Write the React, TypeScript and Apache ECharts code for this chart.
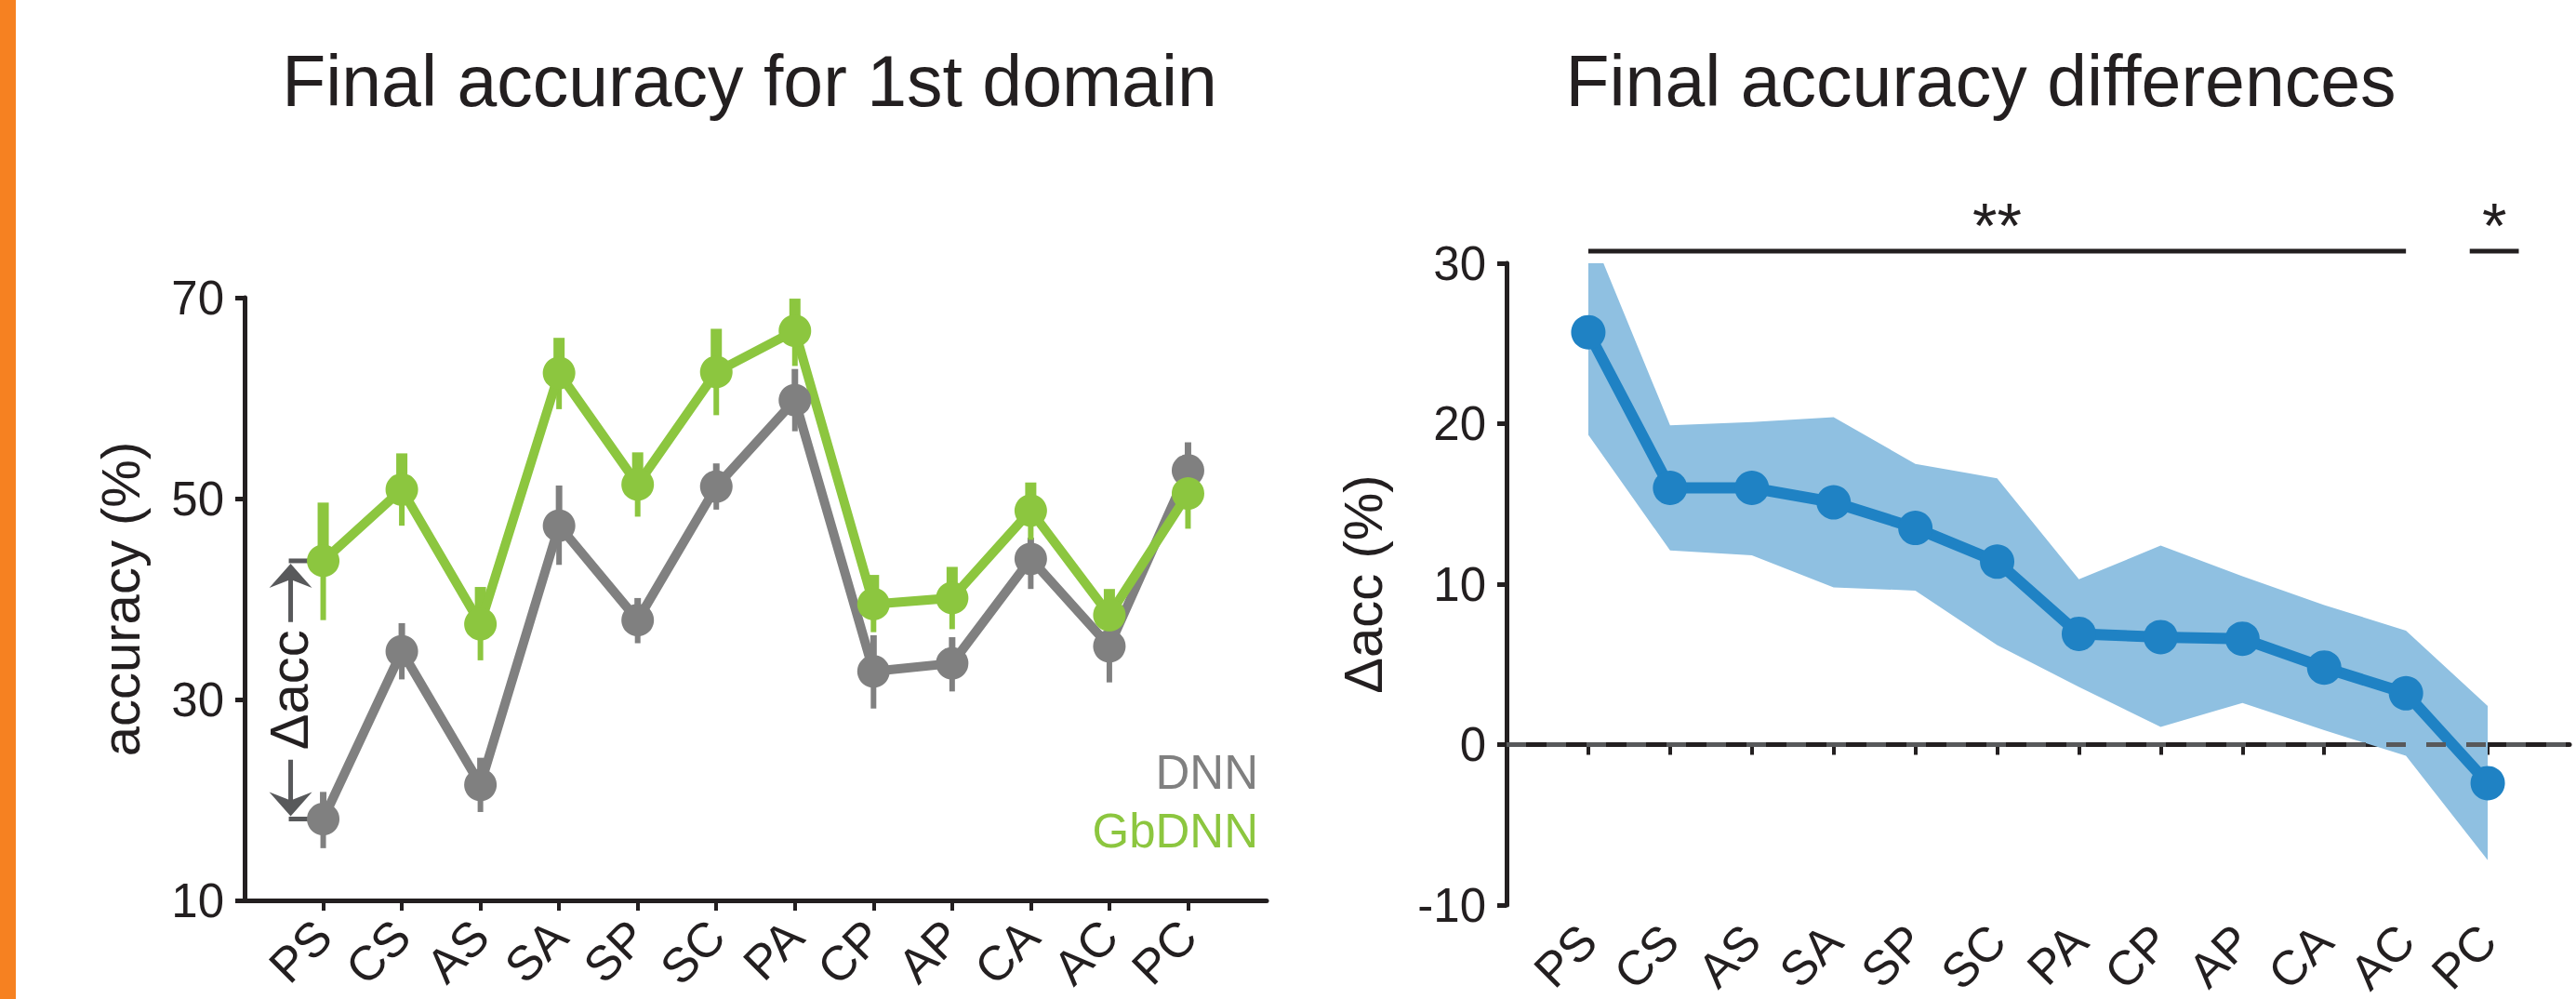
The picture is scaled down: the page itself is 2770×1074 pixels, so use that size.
import React, { useEffect, useRef } from "react";
import * as echarts from "echarts";

// ---------- data ----------
const categories = ["PS", "CS", "AS", "SA", "SP", "SC", "PA", "CP", "AP", "CA", "AC", "PC"];

const dnnMean = [18.1, 34.8, 21.5, 47.3, 37.9, 51.2, 59.8, 32.8, 33.6, 44.0, 35.3, 52.8];
const dnnLow = [15.2, 32.0, 18.8, 43.4, 35.6, 48.9, 56.7, 29.1, 30.8, 41.0, 31.7, 49.9];
const dnnHigh = [20.8, 37.6, 24.2, 51.3, 40.1, 53.5, 62.9, 36.4, 36.2, 46.1, 36.7, 55.6];

const gbMean = [43.8, 50.9, 37.5, 62.5, 51.4, 62.6, 66.7, 39.5, 40.1, 48.8, 38.4, 50.5];
const gbLow = [37.9, 47.3, 33.9, 58.9, 48.2, 58.3, 63.2, 36.7, 37.0, 45.9, 35.9, 47.0];
const gbHigh = [49.6, 54.5, 41.2, 66.0, 54.6, 66.9, 69.9, 42.4, 43.2, 51.6, 41.0, 53.9];

const diffMean = [25.7, 16.0, 16.0, 15.1, 13.5, 11.4, 6.9, 6.7, 6.6, 4.8, 3.2, -2.4];
const diffLow = [19.3, 12.1, 11.8, 9.8, 9.6, 6.2, 3.6, 1.1, 2.6, 0.9, -0.7, -7.2];
const diffHigh = [32.3, 19.9, 20.1, 20.4, 17.5, 16.6, 10.3, 12.4, 10.5, 8.7, 7.1, 2.4];

const leftTicks = [10, 30, 50, 70];
const rightTicks = [-10, 0, 10, 20, 30];

const sigGroups = [
  { from: "PS", to: "AC", label: "**" },
  { from: "PC", to: "PC", label: "*" },
];
const sigLevel = 30.75;

// ---------- styles ----------
const FONT = "Liberation Sans, Arial, Helvetica, sans-serif";
const INK = "#231f20";
const GRAY = "#808080";
const GREEN = "#8cc63f";
const BLUE = "#1f82c4";
const BAND = "#8fc0e1";
const DARK = "#58595b";
const ORANGE = "#f68121";

const pad = (arr: (number | string)[]) => [null, ...arr, null];
const xCats = ["", ...categories, ""];

function errorSeries(idx: number, mean: number[], low: number[], high: number[], color: string, upW: number, lowW: number) {
  return {
    type: "custom",
    xAxisIndex: idx,
    yAxisIndex: idx,
    silent: true,
    data: categories.map((c, i) => [i + 1, mean[i], low[i], high[i]]),
    encode: { x: 0, y: [1, 2, 3] },
    renderItem: (params: any, api: any) => {
      const x = api.value(0);
      const m = api.coord([x, api.value(1)]);
      const lo = api.coord([x, api.value(2)]);
      const hi = api.coord([x, api.value(3)]);
      return {
        type: "group",
        children: [
          { type: "line", shape: { x1: m[0], y1: m[1], x2: hi[0], y2: hi[1] }, style: { stroke: color, lineWidth: upW } },
          { type: "line", shape: { x1: m[0], y1: m[1], x2: lo[0], y2: lo[1] }, style: { stroke: color, lineWidth: lowW } },
        ],
      };
    },
  };
}

function xAxisDef(idx: number) {
  return {
    type: "category",
    gridIndex: idx,
    data: xCats,
    boundaryGap: false,
    axisLine: { show: true, lineStyle: { color: INK, width: 5 } },
    axisTick: {
      show: true,
      interval: (i: number, v: string) => v !== "",
      length: 11,
      lineStyle: { color: INK, width: 4 },
    },
    axisLabel: { interval: 0, rotate: 45, margin: 30, fontSize: 52, color: INK, fontFamily: FONT },
    splitLine: { show: false },
  };
}

function yAxisDef(idx: number, ticks: number[], name: string, nameGap: number) {
  return {
    type: "value",
    gridIndex: idx,
    min: ticks[0],
    max: ticks[ticks.length - 1],
    interval: ticks[1] - ticks[0],
    axisLine: { show: true, lineStyle: { color: INK, width: 5 } },
    axisTick: { show: true, length: 10, lineStyle: { color: INK, width: 5 } },
    axisLabel: { fontSize: 51, margin: 22, color: INK, fontFamily: FONT },
    splitLine: { show: false },
    name,
    nameLocation: "middle",
    nameGap,
    nameTextStyle: { fontSize: 58, color: INK, fontFamily: FONT },
  };
}

function lineSeries(idx: number, values: number[], color: string, size: number, width: number) {
  return {
    type: "line",
    xAxisIndex: idx,
    yAxisIndex: idx,
    data: pad(values),
    symbol: "circle",
    symbolSize: size,
    showSymbol: true,
    lineStyle: { color, width },
    itemStyle: { color },
    silent: true,
  };
}

const option: any = {
  animation: false,
  backgroundColor: "#ffffff",
  title: [
    {
      text: "Final accuracy for 1st domain",
      left: 806,
      top: 48,
      padding: 0,
      textAlign: "center",
      textStyle: { fontSize: 77, fontWeight: "normal", color: INK, fontFamily: FONT },
    },
    {
      text: "Final accuracy differences",
      left: 2130,
      top: 48,
      padding: 0,
      textAlign: "center",
      textStyle: { fontSize: 77, fontWeight: "normal", color: INK, fontFamily: FONT },
    },
  ],
  grid: [
    { left: 263, top: 320, width: 1099, height: 648, outerBoundsMode: "none" },
    { left: 1620, top: 283, width: 1143, height: 690, outerBoundsMode: "none" },
  ],
  xAxis: [xAxisDef(0), xAxisDef(1)],
  yAxis: [yAxisDef(0, leftTicks, "accuracy (%)", 105), yAxisDef(1, rightTicks, "Δacc (%)", 126)],
  series: [
    errorSeries(0, dnnMean, dnnLow, dnnHigh, GRAY, 7, 6),
    lineSeries(0, dnnMean, GRAY, 35, 10),
    errorSeries(0, gbMean, gbLow, gbHigh, GREEN, 12, 6),
    lineSeries(0, gbMean, GREEN, 35, 10),
    {
      type: "line",
      xAxisIndex: 1,
      yAxisIndex: 1,
      data: pad(diffLow),
      stack: "band",
      stackStrategy: "all",
      symbol: "none",
      lineStyle: { width: 0, opacity: 0 },
      silent: true,
    },
    {
      type: "line",
      xAxisIndex: 1,
      yAxisIndex: 1,
      data: pad(diffHigh.map((h, i) => +(h - diffLow[i]).toFixed(2))),
      stack: "band",
      stackStrategy: "all",
      symbol: "none",
      lineStyle: { width: 0, opacity: 0 },
      areaStyle: { color: BAND, opacity: 1 },
      silent: true,
    },
    {
      ...lineSeries(1, diffMean, BLUE, 37, 12),
      markLine: {
        silent: true,
        symbol: ["none", "none"],
        label: { show: false },
        lineStyle: { type: [21, 22], width: 5, color: DARK },
        data: [{ yAxis: 0 }],
      },
    },
  ],
};

export default function App() {
  const ref = useRef<HTMLDivElement>(null);
  useEffect(() => {
    document.body.style.margin = "0";
    const chart = echarts.init(ref.current!, null, { renderer: "svg" });
    chart.setOption(option);

    const toPx = (g: number, x: number, y: number) => chart.convertToPixel({ gridIndex: g }, [x, y]) as number[];

    const graphics: any[] = [
      { type: "rect", shape: { x: 0, y: 0, width: 17, height: 1074 }, style: { fill: ORANGE }, z: 10 },
      {
        type: "text",
        x: 1353,
        y: 830,
        style: { text: "DNN", fill: GRAY, fontSize: 51, fontFamily: FONT, align: "right", verticalAlign: "middle" },
      },
      {
        type: "text",
        x: 1353,
        y: 893,
        style: { text: "GbDNN", fill: GREEN, fontSize: 51, fontFamily: FONT, align: "right", verticalAlign: "middle" },
      },
    ];

    // Δacc annotation between the PS points
    const pG = toPx(0, 1, gbMean[0]);
    const pD = toPx(0, 1, dnnMean[0]);
    const sx = pG[0] - 35;
    const mid = (pG[1] + pD[1]) / 2;
    const ls = { stroke: DARK, lineWidth: 5 };
    graphics.push(
      { type: "line", shape: { x1: sx - 2, y1: pG[1], x2: pG[0] - 14, y2: pG[1] }, style: ls, z: 1 },
      { type: "line", shape: { x1: sx, y1: pG[1] + 18, x2: sx, y2: mid - 73 }, style: ls, z: 1 },
      {
        type: "polygon",
        shape: { points: [[sx, pG[1] + 3], [sx + 23, pG[1] + 29], [sx, pG[1] + 20], [sx - 23, pG[1] + 29]] },
        style: { fill: DARK },
        z: 1,
      },
      {
        type: "text",
        x: sx - 2,
        y: mid,
        rotation: Math.PI / 2,
        style: { text: "Δacc", fill: INK, fontSize: 58, fontFamily: FONT, align: "center", verticalAlign: "middle" },
      },
      { type: "line", shape: { x1: sx, y1: mid + 75, x2: sx, y2: pD[1] - 18 }, style: ls, z: 1 },
      {
        type: "polygon",
        shape: { points: [[sx, pD[1] - 3], [sx + 23, pD[1] - 29], [sx, pD[1] - 20], [sx - 23, pD[1] - 29]] },
        style: { fill: DARK },
        z: 1,
      },
      { type: "line", shape: { x1: sx - 2, y1: pD[1], x2: pD[0] - 14, y2: pD[1] }, style: ls, z: 1 }
    );

    // significance bars
    const band = toPx(1, 2, 0)[0] - toPx(1, 1, 0)[0];
    sigGroups.forEach((g) => {
      const i0 = categories.indexOf(g.from) + 1;
      const i1 = categories.indexOf(g.to) + 1;
      let x0 = toPx(1, i0, sigLevel)[0];
      let x1 = toPx(1, i1, sigLevel)[0];
      const y = toPx(1, i0, sigLevel)[1];
      if (i0 === i1) {
        x0 = x0 - 0.22 * band;
        x1 = x1 + 0.38 * band;
      }
      graphics.push(
        { type: "line", shape: { x1: x0, y1: y, x2: x1, y2: y }, style: { stroke: INK, lineWidth: 5 } },
        {
          type: "text",
          x: (x0 + x1) / 2,
          y: y - 28,
          style: { text: g.label, fill: INK, fontSize: 68, fontFamily: FONT, align: "center", verticalAlign: "middle" },
        }
      );
    });

    chart.setOption({ graphic: graphics });
    return () => chart.dispose();
  }, []);
  return <div ref={ref} style={{ width: 2770, height: 1074 }} />;
}
